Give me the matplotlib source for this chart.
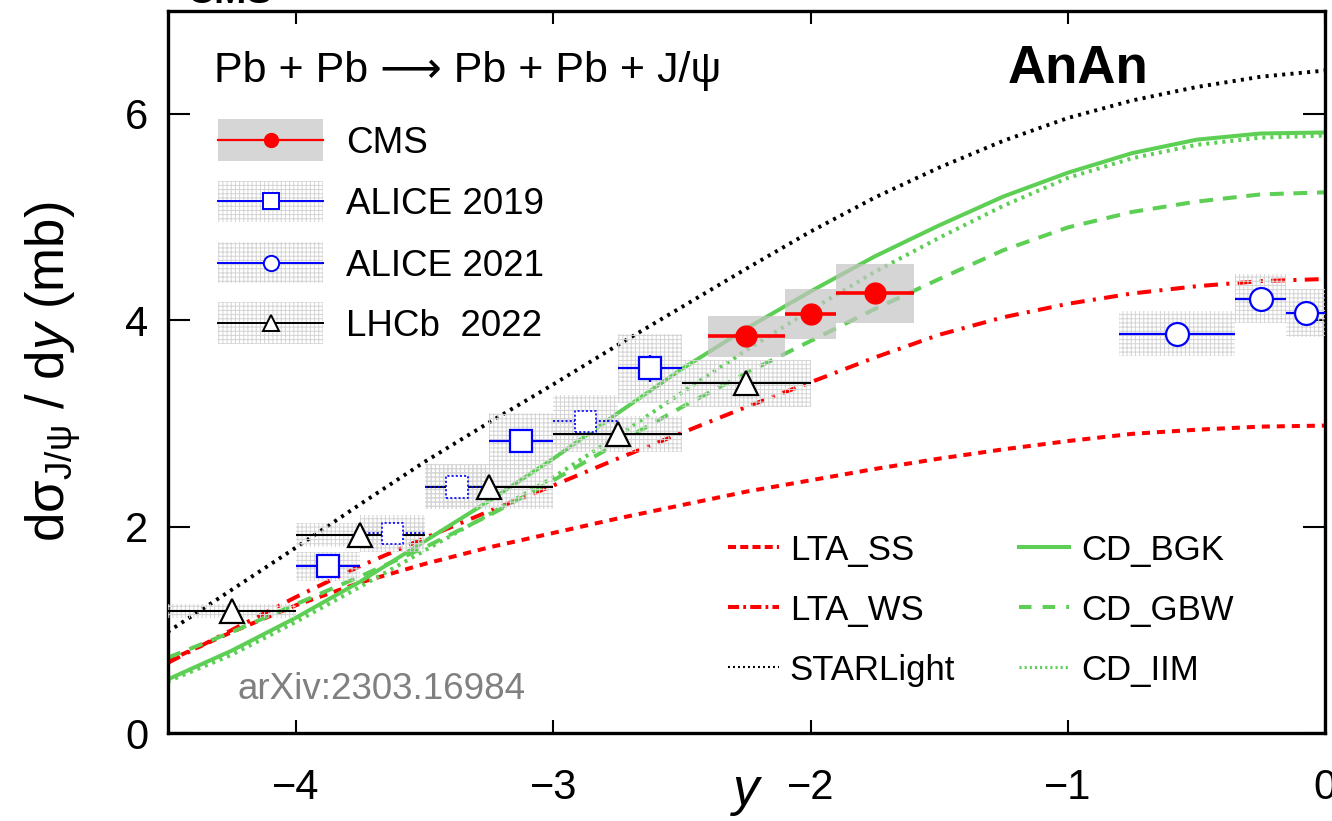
import numpy as np
import matplotlib.pyplot as plt
from matplotlib.patches import Rectangle

plt.rcParams['font.family'] = ['Liberation Sans', 'DejaVu Sans']
plt.rcParams['mathtext.fontset'] = 'custom'
plt.rcParams['mathtext.rm'] = 'Liberation Sans'
plt.rcParams['mathtext.it'] = 'Liberation Sans:italic'
plt.rcParams['lines.scale_dashes'] = False
plt.rcParams['hatch.linewidth'] = 0.7

# theory curves, read every 0.25 in rapidity
y_pts = [-4.5, -4.25, -4.0, -3.75, -3.5, -3.25, -3.0, -2.75, -2.5, -2.25,
         -2.0, -1.75, -1.5, -1.25, -1.0, -0.75, -0.5, -0.25, 0.0]
lta_ss = [0.70, 0.98, 1.24, 1.46, 1.64, 1.80, 1.94, 2.08, 2.21, 2.34,
          2.45, 2.56, 2.66, 2.75, 2.83, 2.90, 2.94, 2.97, 2.98]
lta_ws = [0.68, 1.00, 1.32, 1.62, 1.89, 2.15, 2.40, 2.66, 2.91, 3.16,
          3.40, 3.64, 3.86, 4.03, 4.16, 4.26, 4.33, 4.38, 4.40]
starlight = [0.98, 1.39, 1.80, 2.22, 2.63, 3.01, 3.38, 3.76, 4.13, 4.50,
             4.86, 5.19, 5.48, 5.74, 5.96, 6.13, 6.26, 6.36, 6.42]
cd_bgk = [0.52, 0.80, 1.12, 1.47, 1.86, 2.25, 2.66, 3.10, 3.53, 3.92,
          4.28, 4.62, 4.92, 5.20, 5.43, 5.62, 5.75, 5.81, 5.82]
cd_gbw = [0.73, 0.98, 1.25, 1.52, 1.80, 2.11, 2.45, 2.81, 3.16, 3.49,
          3.80, 4.11, 4.40, 4.68, 4.90, 5.05, 5.15, 5.22, 5.24]
cd_iim = [0.50, 0.76, 1.08, 1.42, 1.77, 2.12, 2.48, 2.88, 3.30, 3.71,
          4.10, 4.47, 4.80, 5.11, 5.38, 5.57, 5.70, 5.77, 5.79]

# CMS
cms_x = [-2.25, -2.0, -1.75]
cms_lo = [-2.4, -2.1, -1.9]
cms_hi = [-2.1, -1.9, -1.6]
cms_val = [3.845, 4.06, 4.26]
cms_sys = [0.20, 0.24, 0.29]

# ALICE 2019 (solid and dotted points)
a19_x = [-3.875, -3.125, -2.625]
a19_val = [1.615, 2.83, 3.535]
a19_stat = [0.05, 0.08, 0.13]
a19_sys = [0.145, 0.275, 0.335]
a19d_x = [-3.625, -3.375, -2.875]
a19d_val = [1.935, 2.385, 3.02]
a19d_sys = [0.175, 0.21, 0.26]
a19_hw = 0.125

# ALICE 2021
a21_x = [-0.575, -0.25, -0.075]
a21_lo = [-0.8, -0.35, -0.15]
a21_hi = [-0.35, -0.15, 0.0]
a21_val = [3.87, 4.21, 4.07]
a21_sys = [0.22, 0.24, 0.235]

# LHCb 2022
lhcb_x = [-4.25, -3.75, -3.25, -2.75, -2.25]
lhcb_val = [1.186, 1.923, 2.389, 2.90, 3.39]
lhcb_sys = [0.068, 0.115, 0.22, 0.175, 0.23]
lhcb_hw = 0.25

red = '#ff0000'
green = '#5dcf55'
blue = '#0000ff'
hatch_c = '#d4d4d4'

fig = plt.figure(figsize=(13.32, 8.21), dpi=100)
ax = fig.add_axes([0.1258, 0.107, 0.869, 0.880])

lw = 2.9
ax.plot(y_pts, lta_ss, color=red, lw=lw, dashes=(5.8, 5.0), zorder=2)
ax.plot(y_pts, lta_ws, color=red, lw=lw, dashes=(10, 6, 2.2, 6), zorder=2)
ax.plot(y_pts, starlight, color='black', lw=2.8, dashes=(2.2, 3.8), zorder=2)
ax.plot(y_pts, cd_bgk, color=green, lw=lw, zorder=2)
ax.plot(y_pts, cd_gbw, color=green, lw=lw, dashes=(10, 7), zorder=2)
ax.plot(y_pts, cd_iim, color=green, lw=lw, dashes=(2.2, 3.6), zorder=2)


def hatch_box(x0, x1, yc, dy):
    ax.add_patch(Rectangle((x0, yc - dy), x1 - x0, 2 * dy, facecolor='none',
                           edgecolor=hatch_c, lw=0, hatch='++++', zorder=3))


# systematic boxes
for xl, xh, v, s in zip(cms_lo, cms_hi, cms_val, cms_sys):
    ax.add_patch(Rectangle((xl, v - s), xh - xl, 2 * s, facecolor='#c4c4c4',
                           alpha=0.7, lw=0, zorder=3))
for x, v, s in zip(a19_x, a19_val, a19_sys):
    hatch_box(x - a19_hw, x + a19_hw, v, s)
for x, v, s in zip(a19d_x, a19d_val, a19d_sys):
    hatch_box(x - a19_hw, x + a19_hw, v, s)
for xl, xh, v, s in zip(a21_lo, a21_hi, a21_val, a21_sys):
    hatch_box(xl, xh, v, s)
for x, v, s in zip(lhcb_x, lhcb_val, lhcb_sys):
    hatch_box(x - lhcb_hw, x + lhcb_hw, v, s)

# data points
cx = np.array(cms_x)
ax.errorbar(cms_x, cms_val, xerr=[cx - np.array(cms_lo), np.array(cms_hi) - cx],
            fmt='o', color=red, ms=15, elinewidth=2.6, capsize=0, zorder=5)
ax.errorbar(lhcb_x, lhcb_val, xerr=lhcb_hw, fmt='^', color='black', mfc='white',
            ms=17, mew=1.6, elinewidth=1.5, capsize=0, zorder=5)
ax.errorbar(a19_x, a19_val, xerr=a19_hw, yerr=a19_stat, fmt='s', color=blue,
            mfc='white', ms=15.5, mew=1.6, elinewidth=1.6, capsize=0, zorder=5)
eb = ax.errorbar(a19d_x, a19d_val, xerr=a19_hw, fmt='none', ecolor=blue,
                 elinewidth=1.3, capsize=0, zorder=5)
eb[2][0].set_linestyle((0, (1.5, 1.5)))
ax.scatter(a19d_x, a19d_val, marker='s', s=15.5 ** 2, facecolors='white',
           edgecolors=blue, linewidths=1.2, linestyles=(0, (1.5, 1.5)), zorder=6)
ax21 = np.array(a21_x)
ax.errorbar(a21_x, a21_val, xerr=[ax21 - np.array(a21_lo), np.array(a21_hi) - ax21],
            fmt='o', color=blue, mfc='white', ms=16.5, mew=1.6, elinewidth=1.6,
            capsize=0, zorder=5)

ax.set_xlim(-4.5, 0)
ax.set_ylim(0, 7)
ax.set_xticks([-4, -3, -2, -1, 0])
ax.set_yticks([0, 2, 4, 6])
ax.tick_params(axis='both', direction='in', top=True, right=True, width=1.5,
               labelsize=30)
ax.tick_params(axis='x', length=9.5, pad=25)
ax.tick_params(axis='y', length=15.5, pad=14)
for sp in ax.spines.values():
    sp.set_linewidth(2.4)

ax.set_xlabel('y', fontstyle='italic', fontsize=38, labelpad=-30)
ax.set_ylabel(r'd$\mathrm{\sigma}_{\mathrm{J/\psi}}$ / d$\mathit{y}$ (mb)',
              fontsize=38, labelpad=30)

# texts
T = ax.transAxes
ax.text(0.040, 0.9007, 'Pb + Pb ⟶ Pb + Pb + J/ψ', transform=T, fontsize=31,
        va='baseline')
ax.text(0.7256, 0.8999, 'AnAn', transform=T, fontsize=38, fontweight='bold',
        va='baseline')
ax.text(0.060, 0.047, 'arXiv:2303.16984', transform=T, fontsize=26.5,
        color='#808080', va='baseline')
fig.text(0.140, 1 - 3 / 821, 'CMS', fontsize=28, fontweight='bold', va='baseline')

# top-left legend
leg_rows = [0.8209, 0.7359, 0.6514, 0.5675]
leg_labels = ['CMS', 'ALICE 2019', 'ALICE 2021', 'LHCb  2022']
leg_colors = [red, blue, blue, 'black']
leg_markers = ['o', 's', 'o', '^']
bx0, bx1, bh = 0.0440, 0.1340, 0.029
for i, (yr, lab, c, m) in enumerate(zip(leg_rows, leg_labels, leg_colors, leg_markers)):
    if i == 0:
        ax.add_patch(Rectangle((bx0, yr - bh), bx1 - bx0, 2 * bh, transform=T,
                               facecolor='#d6d6d6', lw=0, zorder=6))
        ax.plot([bx0, bx1], [yr, yr], transform=T, color=c, lw=1.6, zorder=7)
        ax.plot([(bx0 + bx1) / 2], [yr], transform=T, marker='o', color=c, ms=10,
                zorder=7)
    else:
        ax.add_patch(Rectangle((bx0, yr - bh), bx1 - bx0, 2 * bh, transform=T,
                               facecolor='none', edgecolor=hatch_c, hatch='++++',
                               lw=0, zorder=6))
        ax.plot([bx0, bx1], [yr, yr], transform=T, color=c, lw=1.4, zorder=7)
        ax.plot([(bx0 + bx1) / 2], [yr], transform=T, marker=m, color=c,
                mfc='white', mew=1.4, ms=11, zorder=7)
    ax.text(0.1539, yr - 0.018, lab, transform=T, fontsize=26.5, va='baseline')

# bottom-right legend
th_rows = [0.258, 0.175, 0.0918]
th_cols = [(0.4838, 0.5282, 0.5376), (0.736, 0.7787, 0.789)]
th_entries = [
    [('LTA_SS', red, (5.8, 3.0), 2.9), ('LTA_WS', red, (8, 3, 2, 3), 2.9),
     ('STARLight', 'black', (1.4, 2.2), 1.5)],
    [('CD_BGK', green, None, 2.9), ('CD_GBW', green, (9, 8), 2.9),
     ('CD_IIM', green, (1.5, 2.2), 2.2)],
]
for (x0, x1, xt), col in zip(th_cols, th_entries):
    for yr, (lab, c, d, w) in zip(th_rows, col):
        ln, = ax.plot([x0, x1], [yr, yr], transform=T, color=c, lw=w, zorder=7)
        if d is not None:
            ln.set_dashes(d)
        ax.text(xt, yr - 0.0184, lab, transform=T, fontsize=25, va='baseline')

fig.savefig('out.png', dpi=100)
